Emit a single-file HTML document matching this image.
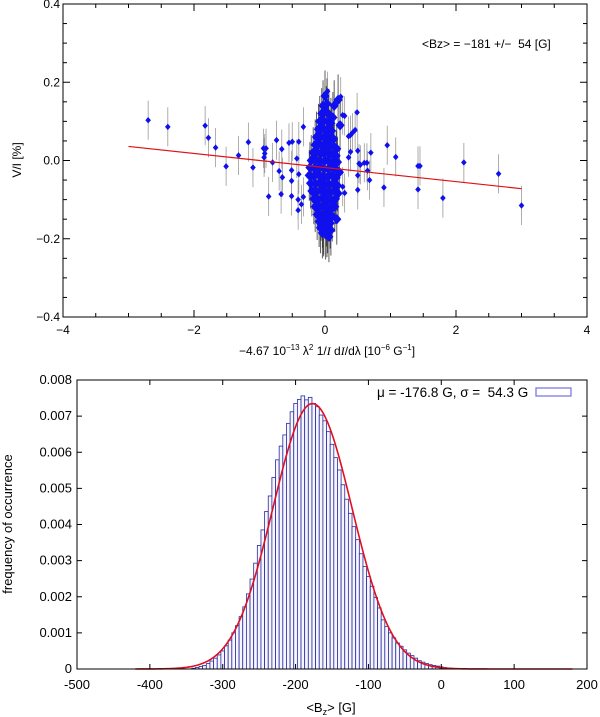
<!DOCTYPE html>
<html><head><meta charset="utf-8"><style>
body{margin:0;background:#fff}
svg{display:block}
text{font-family:"Liberation Sans",sans-serif;fill:#000;white-space:pre}
</style></head><body>
<div style="position:relative;width:600px;height:717px">
<svg id="s" width="600" height="717" xmlns="http://www.w3.org/2000/svg" style="position:absolute;left:0;top:0">
<g id="topPanel"></g>
<g id="botPanel"></g>
</svg>
<svg width="600" height="717" xmlns="http://www.w3.org/2000/svg" style="position:absolute;left:0;top:0;pointer-events:none">
<text x="422" y="48" font-size="12">&lt;Bz&gt; = −181 +/−  54 [G]</text>
<text x="327" y="355" font-size="12" text-anchor="middle">−4.67 10<tspan font-size="8" dy="-5">−13</tspan><tspan dy="5"> λ</tspan><tspan font-size="8" dy="-5">2</tspan><tspan dy="5"> 1/</tspan><tspan font-style="italic" font-family="Liberation Serif">I</tspan> d<tspan font-style="italic" font-family="Liberation Serif">I</tspan>/dλ [10<tspan font-size="8" dy="-5">−6</tspan><tspan dy="5"> G</tspan><tspan font-size="8" dy="-5">−1</tspan><tspan dy="5">]</tspan></text>
<text transform="translate(21,160) rotate(-90)" font-size="12" text-anchor="middle">V/I [%]</text>
<text x="377" y="397" font-size="13.5">μ = -176.8 G, σ =  54.3 G</text>
<rect x="536" y="388" width="35" height="8" fill="none" stroke="#7070e0" stroke-width="1.2"/>
<text x="331" y="712" font-size="13" text-anchor="middle">&lt;B<tspan font-size="9" dy="3">z</tspan><tspan dy="-3">&gt; [G]</tspan></text>
<text transform="translate(12,524) rotate(-90)" font-size="13" text-anchor="middle">frequency of occurrence</text>
</svg>
</div>
<script>
// ---- top scatter data ----
const outX=[-2.70,-2.40,-1.83,-1.78,-1.67,-1.51,-1.32,-1.17,-1.10,-0.94,-0.90,-0.93,-0.92,-0.80,-0.86,-0.74,-0.70,-0.67,-0.66,-0.65,-0.55,-0.50,-0.51,-0.51,-0.51,-0.43,-0.41,-0.40,-0.40,-0.41,-0.36,-0.33,-0.33,0.04,0.24,0.27,0.30,0.49,0.46,0.42,0.39,0.36,0.39,0.36,0.50,0.52,0.54,0.60,0.64,0.50,0.50,0.65,0.68,0.70,0.30,0.27,0.95,1.08,0.90,1.42,1.45,1.42,1.80,2.12,2.65,3.00];
const outY=[0.103,0.086,0.089,0.058,0.033,-0.015,0.013,0.047,-0.018,0.031,0.031,0.008,0.018,-0.005,-0.092,0.052,-0.027,-0.086,0.029,-0.043,0.045,0.048,-0.025,-0.052,-0.091,0.005,-0.100,0.048,-0.035,-0.127,-0.112,-0.093,0.086,0.177,0.163,0.116,0.114,0.123,0.078,0.071,0.065,0.062,0.022,0.008,0.025,-0.008,-0.011,-0.006,-0.006,-0.038,-0.075,-0.026,-0.050,0.020,-0.083,-0.067,0.039,0.009,-0.069,-0.014,-0.014,-0.074,-0.096,-0.005,-0.034,-0.115];
const blobX=[0.00,-0.03,0.03,-0.05,0.02,0.06,-0.08,-0.02,0.05,0.09,-0.10,-0.05,0.00,0.05,0.10,-0.13,-0.07,-0.01,0.04,0.09,0.13,-0.15,-0.09,-0.03,0.03,0.08,0.14,0.18,-0.18,-0.12,-0.06,0.00,0.06,0.12,0.17,-0.21,-0.14,-0.07,0.00,0.07,0.13,0.19,-0.23,-0.16,-0.09,-0.02,0.05,0.12,0.18,-0.24,-0.17,-0.10,-0.03,0.04,0.11,0.17,0.22,-0.22,-0.15,-0.08,-0.01,0.06,0.13,0.19,-0.20,-0.13,-0.06,0.01,0.08,0.15,0.20,-0.17,-0.11,-0.04,0.03,0.10,0.16,-0.15,-0.08,-0.02,0.05,0.11,0.15,-0.12,-0.06,0.00,0.06,0.11,-0.09,-0.04,0.02,0.08,-0.07,-0.02,0.04,0.09,-0.04,0.01,0.06,-0.02,0.03,0.14,0.20,0.12,0.23,0.18];
const blobY=[0.165,0.140,0.145,0.120,0.125,0.118,0.100,0.102,0.098,0.095,0.080,0.082,0.078,0.080,0.076,0.060,0.062,0.058,0.060,0.057,0.055,0.040,0.042,0.038,0.040,0.037,0.035,0.030,0.020,0.022,0.018,0.020,0.017,0.015,0.012,0.000,0.002,-0.002,0.000,-0.003,-0.005,-0.004,-0.018,-0.020,-0.016,-0.020,-0.022,-0.018,-0.024,-0.038,-0.040,-0.036,-0.040,-0.042,-0.038,-0.044,-0.030,-0.058,-0.060,-0.056,-0.060,-0.062,-0.058,-0.064,-0.078,-0.080,-0.076,-0.080,-0.082,-0.078,-0.084,-0.098,-0.100,-0.096,-0.100,-0.102,-0.098,-0.118,-0.120,-0.116,-0.120,-0.122,-0.118,-0.138,-0.140,-0.136,-0.140,-0.142,-0.156,-0.158,-0.155,-0.160,-0.172,-0.175,-0.172,-0.178,-0.185,-0.188,-0.195,-0.180,-0.182,0.140,0.155,0.110,0.090,-0.150];
const outErr=0.05, blobErr=0.065;
const fitX=[-3,3], fitY=[0.036,-0.072];
const topXTicks=[-4,-2,0,2,4], topXLabels=["\u22124","\u22122","0","2","4"];
const topYTicks=[-0.4,-0.2,0,0.2,0.4], topYLabels=["\u22120.4","\u22120.2","0.0","0.2","0.4"];
// ---- bottom histogram data ----
const binCenters=[-340,-335,-330,-325,-320,-315,-310,-305,-300,-295,-290,-285,-280,-275,-270,-265,-260,-255,-250,-245,-240,-235,-230,-225,-220,-215,-210,-205,-200,-195,-190,-185,-180,-175,-170,-165,-160,-155,-150,-145,-140,-135,-130,-125,-120,-115,-110,-105,-100,-95,-90,-85,-80,-75,-70,-65,-60,-55,-50,-45,-40,-35,-30,-25,-20,-15,-10,-5,0,5,10,15,20];
const binFreq=[0.00002,0.00004,0.00007,0.0001,0.00015,0.00022,0.0003,0.00039,0.0005,0.00064,0.0008,0.001,0.0012,0.00145,0.00172,0.00208,0.00249,0.00293,0.00342,0.00385,0.00436,0.00479,0.0053,0.00579,0.00617,0.00648,0.0068,0.00712,0.00735,0.00746,0.00756,0.00745,0.00752,0.00735,0.00726,0.00703,0.00687,0.00657,0.00622,0.00585,0.00551,0.0051,0.0047,0.00431,0.00394,0.00358,0.00319,0.00284,0.00256,0.00229,0.00198,0.00169,0.00136,0.00118,0.001,0.00086,0.00072,0.00063,0.00053,0.00044,0.00037,0.0003,0.00023,0.00019,0.00015,0.00012,0.0001,0.00008,0.00006,0.00004,0.00003,0.00002,0.00001];
const binWidth=5;
const gMu=-176.8, gSigma=54.3;
const botXTicks=[-500,-400,-300,-200,-100,0,100,200];
const botXLabels=["-500","-400","-300","-200","-100","0","100","200"];
const botYTicks=[0,0.001,0.002,0.003,0.004,0.005,0.006,0.007,0.008];
const botYLabels=["0","0.001","0.002","0.003","0.004","0.005","0.006","0.007","0.008"];

const NS="http://www.w3.org/2000/svg";
function mk(tag,attrs,parent){const e=document.createElementNS(NS,tag);for(const k in attrs)e.setAttribute(k,attrs[k]);parent.appendChild(e);return e;}

// top axes
const T={l:63,r:587,t:4,b:317};
const tx=v=>T.l+(v+4)/8*(T.r-T.l);
const ty=v=>T.b-(v+0.4)/0.8*(T.b-T.t);
const topG=document.getElementById('topPanel');
const gErr=mk('g',{},topG);


blobX.forEach((x,i)=>{const l=mk('line',{x1:tx(x),x2:tx(x),y1:ty(blobY[i]+blobErr),y2:ty(blobY[i]-blobErr),stroke:'#222',"stroke-width":0.9,opacity:0.8},gErr);

});
outX.forEach((x,i)=>{const l=mk('line',{x1:tx(x),x2:tx(x),y1:ty(outY[i]+outErr),y2:ty(outY[i]-outErr),stroke:'#999',"stroke-width":0.8},gErr);

});
const gPts=mk('g',{fill:'#1010ee'},topG);


function diamond(x,y,s){const X=tx(x),Y=ty(y);const p=mk('path',{d:`M${X} ${Y-s*1.15}L${X+s} ${Y}L${X} ${Y+s*1.15}L${X-s} ${Y}Z`},gPts);

}
blobX.forEach((x,i)=>diamond(x,blobY[i],4.6));
outX.forEach((x,i)=>diamond(x,outY[i],2.8));
const fl=mk('line',{x1:tx(fitX[0]),y1:ty(fitY[0]),x2:tx(fitX[1]),y2:ty(fitY[1]),stroke:'#e01010',"stroke-width":1.2},topG);


const fr=mk('rect',{x:T.l,y:T.t,width:T.r-T.l,height:T.b-T.t,fill:'none',stroke:'#000',"stroke-width":1},topG);


for(let k=0;k<=16;k++){const v=-4+k*0.5;const L=(k%4===0)?7:4;
mk('line',{x1:tx(v),x2:tx(v),y1:T.b,y2:T.b-L,stroke:'#000'},topG);mk('line',{x1:tx(v),x2:tx(v),y1:T.t,y2:T.t+L,stroke:'#000'},topG);}
for(let k=0;k<=16;k++){const v=-0.4+k*0.05;const L=(k%4===0)?7:4;
mk('line',{x1:T.l,x2:T.l+L,y1:ty(v),y2:ty(v),stroke:'#000'},topG);mk('line',{x1:T.r,x2:T.r-L,y1:ty(v),y2:ty(v),stroke:'#000'},topG);}
topXTicks.forEach((v,i)=>{const t=mk('text',{x:tx(v),y:T.b+17,"text-anchor":"middle","font-size":12},topG);t.textContent=topXLabels[i];

});
topYTicks.forEach((v,i)=>{const t=mk('text',{x:T.l-3,y:ty(v)+4,"text-anchor":"end","font-size":12},topG);t.textContent=topYLabels[i];

});

// bottom axes
const B={l:77,r:587,t:380,b:669};
const bx=v=>B.l+(v+500)/700*(B.r-B.l);
const by=v=>B.b-v/0.008*(B.b-B.t);
const botG=document.getElementById('botPanel');
const gBars=mk('g',{},botG);


binCenters.forEach((c,i)=>{const x0=bx(c-binWidth/2),x1=bx(c+binWidth/2);
const r=mk('rect',{x:x0,y:by(binFreq[i]),width:x1-x0,height:B.b-by(binFreq[i]),fill:'#f6f6ff',stroke:'#2a2aa0',"stroke-width":0.8},gBars);

});
let d='';for(let g=-420;g<=180;g+=2){const f=Math.exp(-0.5*((g-gMu)/gSigma)**2)/(gSigma*Math.sqrt(2*Math.PI));d+=(g===-420?'M':'L')+bx(g).toFixed(2)+' '+by(f).toFixed(2);}
const gc=mk('path',{d:d,fill:'none',stroke:'#e01020',"stroke-width":1.6},botG);


const br=mk('rect',{x:B.l,y:B.t,width:B.r-B.l,height:B.b-B.t,fill:'none',stroke:'#000',"stroke-width":1},botG);


botXTicks.forEach((v,i)=>{mk('line',{x1:bx(v),x2:bx(v),y1:B.b,y2:B.b-5,stroke:'#000'},botG);mk('line',{x1:bx(v),x2:bx(v),y1:B.t,y2:B.t+5,stroke:'#000'},botG);
const t=mk('text',{x:bx(v),y:B.b+20,"text-anchor":"middle","font-size":13},botG);t.textContent=botXLabels[i];

});
botYTicks.forEach((v,i)=>{mk('line',{x1:B.l,x2:B.l+5,y1:by(v),y2:by(v),stroke:'#000'},botG);mk('line',{x1:B.r,x2:B.r-5,y1:by(v),y2:by(v),stroke:'#000'},botG);
const t=mk('text',{x:B.l-5,y:by(v)+4,"text-anchor":"end","font-size":13},botG);t.textContent=botYLabels[i];

});
</script>
</body></html>
